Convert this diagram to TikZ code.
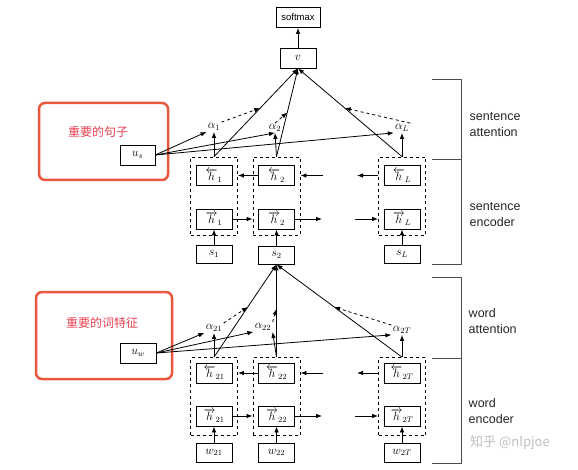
\documentclass[tikz,border=0pt]{standalone}
\usepackage{fontspec}
\setsansfont{Liberation Sans}
\newfontfamily\cjkfont{Noto Sans CJK SC}
\usetikzlibrary{positioning, arrows.meta}
\definecolor{noteborder}{HTML}{E9573F}
\definecolor{notetext}{HTML}{E8404F}
\tikzset{
  hbox/.style = {draw, minimum width = 36pt, minimum height = 20pt, inner sep = 0pt, font = \fontsize{12}{12}\selectfont},
  grp/.style = {draw, dashed, minimum width = 47pt, minimum height = 78pt},
  attn/.style = {inner sep = 1pt, font = \fontsize{12}{12}\selectfont},
  redbox/.style = {draw = noteborder, line width = 2.5pt, rounded corners = 6pt},
  redtext/.style = {text = notetext, font = \cjkfont\fontsize{12}{12}\selectfont},
  sidelabel/.style = {anchor = west, align = left, text = black!85, font = \sffamily\fontsize{12.5}{16}\selectfont},
  bracket/.style = {draw = black!70, line width = 1pt}
}

\begin{document}
\begin{tikzpicture}[x = 1pt, y = -1pt, >={Latex[length = 6pt, width = 4.5pt]}, line width = .8pt]
  \useasboundingbox (0,0) rectangle (578,470);

  \draw [redbox] (39,103) rectangle (168,180);
  \node (rs) at (98,132) [redtext] {重要的句子};
  \draw [redbox] (36,292) rectangle (172,379);
  \node (rw) at (102,323) [redtext] {重要的词特征};

  \node (sm) at (298,17.5) [hbox, minimum width = 44pt, font = \sffamily\fontsize{9.5}{10}\selectfont] {softmax};
  \node (v)  at (298,58) [hbox] {$v$};

  \node (g1)  at (214,196) [grp] {};
  \node (hb1) at (214,175.5) [hbox] {$\overleftarrow{h}_1$};
  \node (hf1) at (214,219) [hbox] {$\overrightarrow{h}_1$};
  \node (s1)  at (214,254) [hbox, minimum height = 18pt] {$s_1$};
  \node (g2)  at (276.5,196) [grp] {};
  \node (hb2) at (276.5,175.5) [hbox] {$\overleftarrow{h}_2$};
  \node (hf2) at (276.5,219) [hbox] {$\overrightarrow{h}_2$};
  \node (s2)  at (276.5,255) [hbox, minimum height = 18pt] {$s_2$};
  \node (gL)  at (402,196) [grp] {};
  \node (hbL) at (402,175.5) [hbox] {$\overleftarrow{h}_L$};
  \node (hfL) at (402,219) [hbox] {$\overrightarrow{h}_L$};
  \node (sL)  at (402,254) [hbox, minimum height = 18pt] {$s_L$};

  \node (a1) at (214,127) [attn] {$\alpha_1$};
  \node (a2) at (275,128) [attn] {$\alpha_2$};
  \node (aL) at (402,128) [attn] {$\alpha_L$};
  \node (us) at (137.5,155) [hbox, minimum width = 35pt] {$u_s$};

  \coordinate (bs) at (323,175.5);
  \coordinate (be) at (357,175.5);
  \coordinate (fs) at (322,219);
  \coordinate (fe) at (355,219);

  \draw [->] (v) -- (sm);
  \draw [->] (g1.north) -- (v.south) coordinate [pos = .55] (m1);
  \draw [->] (g2.north) -- (v.south) coordinate [pos = .5] (m2);
  \draw [->] (gL.north) -- (v.south) coordinate [pos = .55] (mL);
  \draw [->, dashed] (a1.north east) -- (m1);
  \draw [->, dashed] (a2.north) -- (m2);
  \draw [->, dashed] (aL.north east) -- (mL);
  \draw [->] (g1.north) -- (a1.south);
  \draw [->] (g2.north) -- (a2.south);
  \draw [->] (gL.north) -- (aL.south);
  \draw [->] (us.east) -- (a1.south west);
  \draw [->] (us.east) -- (a2.south);
  \draw [->] (us.east) -- (aL.south west);
  \draw [->] (hb2.west) -- (hb2.west -| g1.east);
  \draw [->] (bs) -- (bs -| g2.east);
  \draw [->] (be -| gL.west) -- (be);
  \draw [->] (hf1.east) -- (hf1.east -| g2.west);
  \draw [->] (hf2.east) -- (fs);
  \draw [->] (fe) -- (fe -| gL.west);
  \draw [->] (s1) -- (hf1);
  \draw [->] (s2) -- (hf2);
  \draw [->] (sL) -- (hfL);

  \node (g21)  at (214,396.5) [grp] {};
  \node (hb21) at (214,373) [hbox] {$\overleftarrow{h}_{21}$};
  \node (hf21) at (214,416) [hbox] {$\overrightarrow{h}_{21}$};
  \node (w21)  at (214,452.5) [hbox, minimum height = 19pt] {$w_{21}$};
  \node (g22)  at (276.5,396.5) [grp] {};
  \node (hb22) at (276.5,373) [hbox] {$\overleftarrow{h}_{22}$};
  \node (hf22) at (276.5,416) [hbox] {$\overrightarrow{h}_{22}$};
  \node (w22)  at (276.5,452.5) [hbox, minimum height = 19pt] {$w_{22}$};
  \node (g2T)  at (402,396.5) [grp] {};
  \node (hb2T) at (402,373) [hbox] {$\overleftarrow{h}_{2T}$};
  \node (hf2T) at (402,416) [hbox] {$\overrightarrow{h}_{2T}$};
  \node (w2T)  at (402,452.5) [hbox, minimum height = 19pt] {$w_{2T}$};

  \node (a21) at (214,328) [attn] {$\alpha_{21}$};
  \node (a22) at (263,327) [attn] {$\alpha_{22}$};
  \node (a2T) at (402,330) [attn] {$\alpha_{2T}$};
  \node (uw)  at (138,353) [hbox] {$u_w$};

  \coordinate (wbs) at (323,373);
  \coordinate (wbe) at (357,373);
  \coordinate (wfs) at (322,416);
  \coordinate (wfe) at (355,416);

  \draw [->] (g21.north) -- (s2.south) coordinate [pos = .54] (m21);
  \draw [->] (g22.north) -- (s2.south) coordinate [pos = .52] (m22);
  \draw [->] (g2T.north) -- (s2.south) coordinate [pos = .54] (m2T);
  \draw [->, dashed] (a21.north east) -- (m21);
  \draw [->, dashed] (a22.north east) -- (m22);
  \draw [->, dashed] (a2T.north west) -- (m2T);
  \draw [->] (g21.north) -- (a21.south);
  \draw [->] (g22.north) -- (a22.south east);
  \draw [->] (g2T.north) -- (a2T.south);
  \draw [->] (uw.east) -- (a21.south west);
  \draw [->] (uw.east) -- (a22.south west);
  \draw [->] (uw.east) -- (a2T.south west);
  \draw [->] (hb22.west) -- (hb22.west -| g21.east);
  \draw [->] (wbs) -- (wbs -| g22.east);
  \draw [->] (wbe -| g2T.west) -- (wbe);
  \draw [->] (hf21.east) -- (hf21.east -| g22.west);
  \draw [->] (hf22.east) -- (wfs);
  \draw [->] (wfe) -- (wfe -| g2T.west);
  \draw [->] (w21) -- (hf21);
  \draw [->] (w22) -- (hf22);
  \draw [->] (w2T) -- (hf2T);

  \draw [bracket] (432,80) -- (461,80) -- (461,265) -- (432,265);
  \draw [bracket] (432,160) -- (461,160);
  \draw [bracket] (432,278) -- (461,278) -- (461,463) -- (432,463);
  \draw [bracket] (432,358) -- (461,358);
  \node (sa) at (466,125) [sidelabel] {sentence\\attention};
  \node (se) at (466,214.5) [sidelabel] {sentence\\encoder};
  \node (wa) at (465,321.5) [sidelabel] {word\\attention};
  \node (we) at (465,411) [sidelabel] {word\\encoder};
  \node (wm) at (510,443) [text = black!25, font = \cjkfont\fontsize{13}{13}\selectfont] {知乎 @nlpjoe};
\end{tikzpicture}
\end{document}
